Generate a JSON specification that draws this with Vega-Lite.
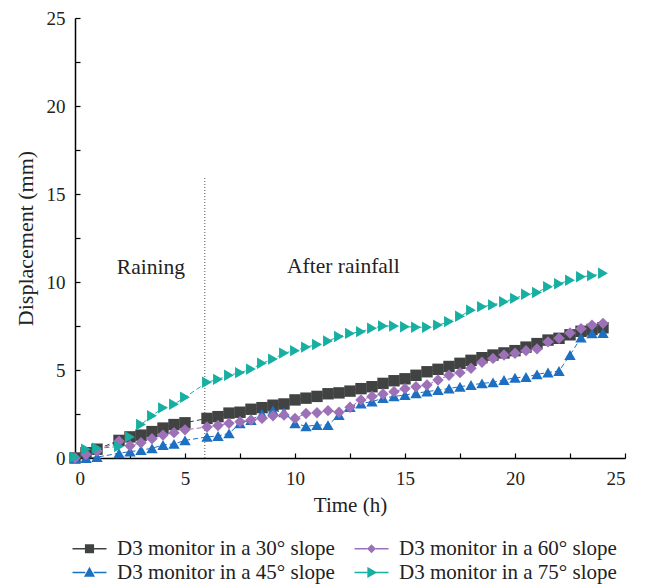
{
  "$schema": "https://vega.github.io/schema/vega-lite/v6.json",
  "width": 550,
  "height": 440,
  "autosize": "none",
  "padding": {"left": 75, "top": 18, "right": 21, "bottom": 127},
  "background": "white",
  "config": {
    "view": {"stroke": null},
    "font": "Liberation Serif",
    "axis": {
      "domainColor": "#000000",
      "domainWidth": 1.5,
      "tickColor": "#000000",
      "tickWidth": 1.2,
      "tickSize": -5,
      "grid": false,
      "labelFont": "Liberation Serif",
      "labelFontSize": 19,
      "labelColor": "#222222",
      "titleFont": "Liberation Serif",
      "titleFontSize": 21,
      "titleFontWeight": "normal",
      "titleColor": "#222222"
    },
    "legend": {
      "orient": "none",
      "legendX": 4,
      "legendY": 520,
      "columns": 2,
      "direction": "horizontal",
      "symbolSize": 289,
      "symbolStrokeWidth": 1.5,
      "labelFont": "Liberation Serif",
      "labelFontSize": 21,
      "labelLimit": 400,
      "labelColor": "#222222",
      "labelOffset": 17,
      "columnPadding": 16,
      "rowPadding": 2
    }
  },
  "datasets": {
    "d": [
      {"s": "D3 monitor in a 30° slope", "t": 0, "v": 0},
      {"s": "D3 monitor in a 30° slope", "t": 0.5, "v": 0.3},
      {"s": "D3 monitor in a 30° slope", "t": 1, "v": 0.5},
      {"s": "D3 monitor in a 30° slope", "t": 2, "v": 1.0},
      {"s": "D3 monitor in a 30° slope", "t": 2.5, "v": 1.2},
      {"s": "D3 monitor in a 30° slope", "t": 3, "v": 1.3},
      {"s": "D3 monitor in a 30° slope", "t": 3.5, "v": 1.5},
      {"s": "D3 monitor in a 30° slope", "t": 4, "v": 1.7},
      {"s": "D3 monitor in a 30° slope", "t": 4.5, "v": 1.9},
      {"s": "D3 monitor in a 30° slope", "t": 5, "v": 2.0},
      {"s": "D3 monitor in a 30° slope", "t": 6, "v": 2.25},
      {"s": "D3 monitor in a 30° slope", "t": 6.5, "v": 2.35},
      {"s": "D3 monitor in a 30° slope", "t": 7, "v": 2.55},
      {"s": "D3 monitor in a 30° slope", "t": 7.5, "v": 2.6},
      {"s": "D3 monitor in a 30° slope", "t": 8, "v": 2.77},
      {"s": "D3 monitor in a 30° slope", "t": 8.5, "v": 2.86},
      {"s": "D3 monitor in a 30° slope", "t": 9, "v": 3.0},
      {"s": "D3 monitor in a 30° slope", "t": 9.5, "v": 3.07},
      {"s": "D3 monitor in a 30° slope", "t": 10, "v": 3.3},
      {"s": "D3 monitor in a 30° slope", "t": 10.5, "v": 3.4},
      {"s": "D3 monitor in a 30° slope", "t": 11, "v": 3.5},
      {"s": "D3 monitor in a 30° slope", "t": 11.5, "v": 3.65},
      {"s": "D3 monitor in a 30° slope", "t": 12, "v": 3.7},
      {"s": "D3 monitor in a 30° slope", "t": 12.5, "v": 3.8},
      {"s": "D3 monitor in a 30° slope", "t": 13, "v": 3.94},
      {"s": "D3 monitor in a 30° slope", "t": 13.5, "v": 4.05},
      {"s": "D3 monitor in a 30° slope", "t": 14, "v": 4.24},
      {"s": "D3 monitor in a 30° slope", "t": 14.5, "v": 4.39},
      {"s": "D3 monitor in a 30° slope", "t": 15, "v": 4.5},
      {"s": "D3 monitor in a 30° slope", "t": 15.5, "v": 4.7},
      {"s": "D3 monitor in a 30° slope", "t": 16, "v": 4.9},
      {"s": "D3 monitor in a 30° slope", "t": 16.5, "v": 5.04},
      {"s": "D3 monitor in a 30° slope", "t": 17, "v": 5.2},
      {"s": "D3 monitor in a 30° slope", "t": 17.5, "v": 5.38},
      {"s": "D3 monitor in a 30° slope", "t": 18, "v": 5.55},
      {"s": "D3 monitor in a 30° slope", "t": 18.5, "v": 5.7},
      {"s": "D3 monitor in a 30° slope", "t": 19, "v": 5.85},
      {"s": "D3 monitor in a 30° slope", "t": 19.5, "v": 5.97},
      {"s": "D3 monitor in a 30° slope", "t": 20, "v": 6.1},
      {"s": "D3 monitor in a 30° slope", "t": 20.5, "v": 6.3},
      {"s": "D3 monitor in a 30° slope", "t": 21, "v": 6.5},
      {"s": "D3 monitor in a 30° slope", "t": 21.5, "v": 6.7},
      {"s": "D3 monitor in a 30° slope", "t": 22, "v": 6.8},
      {"s": "D3 monitor in a 30° slope", "t": 22.5, "v": 7.0},
      {"s": "D3 monitor in a 30° slope", "t": 23, "v": 7.2},
      {"s": "D3 monitor in a 30° slope", "t": 23.5, "v": 7.3},
      {"s": "D3 monitor in a 30° slope", "t": 24, "v": 7.4},

      {"s": "D3 monitor in a 45° slope", "t": 0, "v": 0},
      {"s": "D3 monitor in a 45° slope", "t": 0.5, "v": 0},
      {"s": "D3 monitor in a 45° slope", "t": 1, "v": 0.05},
      {"s": "D3 monitor in a 45° slope", "t": 2, "v": 0.27},
      {"s": "D3 monitor in a 45° slope", "t": 2.5, "v": 0.36},
      {"s": "D3 monitor in a 45° slope", "t": 3, "v": 0.45},
      {"s": "D3 monitor in a 45° slope", "t": 3.5, "v": 0.55},
      {"s": "D3 monitor in a 45° slope", "t": 4, "v": 0.74},
      {"s": "D3 monitor in a 45° slope", "t": 4.5, "v": 0.8},
      {"s": "D3 monitor in a 45° slope", "t": 5, "v": 1.0},
      {"s": "D3 monitor in a 45° slope", "t": 6, "v": 1.2},
      {"s": "D3 monitor in a 45° slope", "t": 6.5, "v": 1.25},
      {"s": "D3 monitor in a 45° slope", "t": 7, "v": 1.4},
      {"s": "D3 monitor in a 45° slope", "t": 7.5, "v": 1.97},
      {"s": "D3 monitor in a 45° slope", "t": 8, "v": 2.16},
      {"s": "D3 monitor in a 45° slope", "t": 8.5, "v": 2.5},
      {"s": "D3 monitor in a 45° slope", "t": 9, "v": 2.7},
      {"s": "D3 monitor in a 45° slope", "t": 9.5, "v": 2.6},
      {"s": "D3 monitor in a 45° slope", "t": 10, "v": 1.97},
      {"s": "D3 monitor in a 45° slope", "t": 10.5, "v": 1.8},
      {"s": "D3 monitor in a 45° slope", "t": 11, "v": 1.87},
      {"s": "D3 monitor in a 45° slope", "t": 11.5, "v": 1.87},
      {"s": "D3 monitor in a 45° slope", "t": 12, "v": 2.44},
      {"s": "D3 monitor in a 45° slope", "t": 12.5, "v": 2.9},
      {"s": "D3 monitor in a 45° slope", "t": 13, "v": 3.1},
      {"s": "D3 monitor in a 45° slope", "t": 13.5, "v": 3.2},
      {"s": "D3 monitor in a 45° slope", "t": 14, "v": 3.4},
      {"s": "D3 monitor in a 45° slope", "t": 14.5, "v": 3.5},
      {"s": "D3 monitor in a 45° slope", "t": 15, "v": 3.58},
      {"s": "D3 monitor in a 45° slope", "t": 15.5, "v": 3.68},
      {"s": "D3 monitor in a 45° slope", "t": 16, "v": 3.77},
      {"s": "D3 monitor in a 45° slope", "t": 16.5, "v": 3.86},
      {"s": "D3 monitor in a 45° slope", "t": 17, "v": 3.95},
      {"s": "D3 monitor in a 45° slope", "t": 17.5, "v": 4.05},
      {"s": "D3 monitor in a 45° slope", "t": 18, "v": 4.15},
      {"s": "D3 monitor in a 45° slope", "t": 18.5, "v": 4.24},
      {"s": "D3 monitor in a 45° slope", "t": 19, "v": 4.3},
      {"s": "D3 monitor in a 45° slope", "t": 19.5, "v": 4.43},
      {"s": "D3 monitor in a 45° slope", "t": 20, "v": 4.56},
      {"s": "D3 monitor in a 45° slope", "t": 20.5, "v": 4.6},
      {"s": "D3 monitor in a 45° slope", "t": 21, "v": 4.75},
      {"s": "D3 monitor in a 45° slope", "t": 21.5, "v": 4.86},
      {"s": "D3 monitor in a 45° slope", "t": 22, "v": 4.94},
      {"s": "D3 monitor in a 45° slope", "t": 22.5, "v": 5.85},
      {"s": "D3 monitor in a 45° slope", "t": 23, "v": 6.84},
      {"s": "D3 monitor in a 45° slope", "t": 23.5, "v": 7.08},
      {"s": "D3 monitor in a 45° slope", "t": 24, "v": 7.1},

      {"s": "D3 monitor in a 60° slope", "t": 0, "v": 0},
      {"s": "D3 monitor in a 60° slope", "t": 0.5, "v": 0.2},
      {"s": "D3 monitor in a 60° slope", "t": 1, "v": 0.4},
      {"s": "D3 monitor in a 60° slope", "t": 2, "v": 0.95},
      {"s": "D3 monitor in a 60° slope", "t": 2.5, "v": 0.7},
      {"s": "D3 monitor in a 60° slope", "t": 3, "v": 0.87},
      {"s": "D3 monitor in a 60° slope", "t": 3.5, "v": 1.1},
      {"s": "D3 monitor in a 60° slope", "t": 4, "v": 1.3},
      {"s": "D3 monitor in a 60° slope", "t": 4.5, "v": 1.44},
      {"s": "D3 monitor in a 60° slope", "t": 5, "v": 1.6},
      {"s": "D3 monitor in a 60° slope", "t": 6, "v": 1.76},
      {"s": "D3 monitor in a 60° slope", "t": 6.5, "v": 1.85},
      {"s": "D3 monitor in a 60° slope", "t": 7, "v": 1.97},
      {"s": "D3 monitor in a 60° slope", "t": 7.5, "v": 2.06},
      {"s": "D3 monitor in a 60° slope", "t": 8, "v": 2.16},
      {"s": "D3 monitor in a 60° slope", "t": 8.5, "v": 2.25},
      {"s": "D3 monitor in a 60° slope", "t": 9, "v": 2.4},
      {"s": "D3 monitor in a 60° slope", "t": 9.5, "v": 2.44},
      {"s": "D3 monitor in a 60° slope", "t": 10, "v": 2.25},
      {"s": "D3 monitor in a 60° slope", "t": 10.5, "v": 2.53},
      {"s": "D3 monitor in a 60° slope", "t": 11, "v": 2.57},
      {"s": "D3 monitor in a 60° slope", "t": 11.5, "v": 2.69},
      {"s": "D3 monitor in a 60° slope", "t": 12, "v": 2.6},
      {"s": "D3 monitor in a 60° slope", "t": 12.5, "v": 2.88},
      {"s": "D3 monitor in a 60° slope", "t": 13, "v": 3.3},
      {"s": "D3 monitor in a 60° slope", "t": 13.5, "v": 3.5},
      {"s": "D3 monitor in a 60° slope", "t": 14, "v": 3.64},
      {"s": "D3 monitor in a 60° slope", "t": 14.5, "v": 3.77},
      {"s": "D3 monitor in a 60° slope", "t": 15, "v": 3.94},
      {"s": "D3 monitor in a 60° slope", "t": 15.5, "v": 4.05},
      {"s": "D3 monitor in a 60° slope", "t": 16, "v": 4.15},
      {"s": "D3 monitor in a 60° slope", "t": 16.5, "v": 4.43},
      {"s": "D3 monitor in a 60° slope", "t": 17, "v": 4.7},
      {"s": "D3 monitor in a 60° slope", "t": 17.5, "v": 4.85},
      {"s": "D3 monitor in a 60° slope", "t": 18, "v": 5.1},
      {"s": "D3 monitor in a 60° slope", "t": 18.5, "v": 5.44},
      {"s": "D3 monitor in a 60° slope", "t": 19, "v": 5.66},
      {"s": "D3 monitor in a 60° slope", "t": 19.5, "v": 5.85},
      {"s": "D3 monitor in a 60° slope", "t": 20, "v": 5.95},
      {"s": "D3 monitor in a 60° slope", "t": 20.5, "v": 6.1},
      {"s": "D3 monitor in a 60° slope", "t": 21, "v": 6.2},
      {"s": "D3 monitor in a 60° slope", "t": 21.5, "v": 6.6},
      {"s": "D3 monitor in a 60° slope", "t": 22, "v": 6.8},
      {"s": "D3 monitor in a 60° slope", "t": 22.5, "v": 7.1},
      {"s": "D3 monitor in a 60° slope", "t": 23, "v": 7.35},
      {"s": "D3 monitor in a 60° slope", "t": 23.5, "v": 7.55},
      {"s": "D3 monitor in a 60° slope", "t": 24, "v": 7.65},

      {"s": "D3 monitor in a 75° slope", "t": 0, "v": 0.05},
      {"s": "D3 monitor in a 75° slope", "t": 0.5, "v": 0.5},
      {"s": "D3 monitor in a 75° slope", "t": 1, "v": 0.55},
      {"s": "D3 monitor in a 75° slope", "t": 2, "v": 0.65},
      {"s": "D3 monitor in a 75° slope", "t": 2.5, "v": 1.2},
      {"s": "D3 monitor in a 75° slope", "t": 3, "v": 1.9},
      {"s": "D3 monitor in a 75° slope", "t": 3.5, "v": 2.4},
      {"s": "D3 monitor in a 75° slope", "t": 4, "v": 2.85},
      {"s": "D3 monitor in a 75° slope", "t": 4.5, "v": 3.05},
      {"s": "D3 monitor in a 75° slope", "t": 5, "v": 3.45},
      {"s": "D3 monitor in a 75° slope", "t": 6, "v": 4.3},
      {"s": "D3 monitor in a 75° slope", "t": 6.5, "v": 4.47},
      {"s": "D3 monitor in a 75° slope", "t": 7, "v": 4.7},
      {"s": "D3 monitor in a 75° slope", "t": 7.5, "v": 4.85},
      {"s": "D3 monitor in a 75° slope", "t": 8, "v": 5.05},
      {"s": "D3 monitor in a 75° slope", "t": 8.5, "v": 5.38},
      {"s": "D3 monitor in a 75° slope", "t": 9, "v": 5.62},
      {"s": "D3 monitor in a 75° slope", "t": 9.5, "v": 5.96},
      {"s": "D3 monitor in a 75° slope", "t": 10, "v": 6.1},
      {"s": "D3 monitor in a 75° slope", "t": 10.5, "v": 6.3},
      {"s": "D3 monitor in a 75° slope", "t": 11, "v": 6.45},
      {"s": "D3 monitor in a 75° slope", "t": 11.5, "v": 6.65},
      {"s": "D3 monitor in a 75° slope", "t": 12, "v": 6.9},
      {"s": "D3 monitor in a 75° slope", "t": 12.5, "v": 7.08},
      {"s": "D3 monitor in a 75° slope", "t": 13, "v": 7.18},
      {"s": "D3 monitor in a 75° slope", "t": 13.5, "v": 7.37},
      {"s": "D3 monitor in a 75° slope", "t": 14, "v": 7.5},
      {"s": "D3 monitor in a 75° slope", "t": 14.5, "v": 7.5},
      {"s": "D3 monitor in a 75° slope", "t": 15, "v": 7.46},
      {"s": "D3 monitor in a 75° slope", "t": 15.5, "v": 7.43},
      {"s": "D3 monitor in a 75° slope", "t": 16, "v": 7.43},
      {"s": "D3 monitor in a 75° slope", "t": 16.5, "v": 7.55},
      {"s": "D3 monitor in a 75° slope", "t": 17, "v": 7.75},
      {"s": "D3 monitor in a 75° slope", "t": 17.5, "v": 8.05},
      {"s": "D3 monitor in a 75° slope", "t": 18, "v": 8.4},
      {"s": "D3 monitor in a 75° slope", "t": 18.5, "v": 8.6},
      {"s": "D3 monitor in a 75° slope", "t": 19, "v": 8.7},
      {"s": "D3 monitor in a 75° slope", "t": 19.5, "v": 8.88},
      {"s": "D3 monitor in a 75° slope", "t": 20, "v": 9.07},
      {"s": "D3 monitor in a 75° slope", "t": 20.5, "v": 9.3},
      {"s": "D3 monitor in a 75° slope", "t": 21, "v": 9.4},
      {"s": "D3 monitor in a 75° slope", "t": 21.5, "v": 9.73},
      {"s": "D3 monitor in a 75° slope", "t": 22, "v": 9.9},
      {"s": "D3 monitor in a 75° slope", "t": 22.5, "v": 10.1},
      {"s": "D3 monitor in a 75° slope", "t": 23, "v": 10.3},
      {"s": "D3 monitor in a 75° slope", "t": 23.5, "v": 10.36},
      {"s": "D3 monitor in a 75° slope", "t": 24, "v": 10.5}
    ]
  },
  "encoding": {
    "x": {
      "field": "t",
      "type": "quantitative",
      "scale": {"domain": [0, 25], "nice": false, "zero": false},
      "axis": {
        "title": "Time (h)",
        "values": [0, 2.5, 5, 7.5, 10, 12.5, 15, 17.5, 20, 22.5, 25],
        "labelExpr": "datum.value % 5 === 0 ? datum.label : ''",
        "labelPadding": 16,
        "titlePadding": 6
      }
    },
    "y": {
      "field": "v",
      "type": "quantitative",
      "scale": {"domain": [0, 25], "nice": false, "zero": false},
      "axis": {
        "title": "Displacement (mm)",
        "titleFontSize": 22,
        "values": [0, 2.5, 5, 7.5, 10, 12.5, 15, 17.5, 20, 22.5, 25],
        "labelExpr": "datum.value % 5 === 0 ? datum.label : ''",
        "labelPadding": 15,
        "titlePadding": 9
      }
    }
  },
  "layer": [
    {
      "data": {"values": [{"t": 5.9, "v": 0, "v2": 16}]},
      "mark": {"type": "rule", "strokeDash": [1, 2], "color": "#555555", "strokeWidth": 1},
      "encoding": {"y2": {"field": "v2"}}
    },
    {
      "data": {"values": [
        {"t": 3.45, "v": 10.8, "label": "Raining"},
        {"t": 12.2, "v": 10.85, "label": "After rainfall"}
      ]},
      "mark": {"type": "text", "font": "Liberation Serif", "fontSize": 21.5, "color": "#222222"},
      "encoding": {"text": {"field": "label"}}
    },
    {
      "data": {"name": "d"},
      "mark": {"type": "line", "strokeDash": [5, 3], "strokeWidth": 1},
      "encoding": {
        "color": {
          "field": "s",
          "type": "nominal",
          "legend": {
            "title": null,
            "symbolType": {"expr": "['M-2,0H-0.5M0.5,0H2M-0.45,-0.45H0.45V0.45H-0.45Z','M-2,0H-0.5M0.5,0H2M0,-0.4L0.4,0L0,0.4L-0.4,0Z','M-2,0H-0.5M0.5,0H2M0,-0.5L0.5,0.4H-0.5Z','M-2,0H-0.5M0.5,0H2M-0.4,-0.5L0.5,0L-0.4,0.5Z'][datum.index]"}
          }
        },
        "detail": {"field": "s"}
      }
    },
    {
      "data": {"name": "d"},
      "mark": {"type": "point", "filled": true, "opacity": 1, "size": 130},
      "encoding": {
        "color": {
          "field": "s",
          "type": "nominal",
          "scale": {
            "domain": ["D3 monitor in a 30° slope", "D3 monitor in a 60° slope", "D3 monitor in a 45° slope", "D3 monitor in a 75° slope"],
            "range": ["#414343", "#9D71B7", "#1D6FC1", "#17AFA2"]
          },
          "legend": {
            "title": null,
            "symbolType": {"expr": "['M-2,0H-0.5M0.5,0H2M-0.45,-0.45H0.45V0.45H-0.45Z','M-2,0H-0.5M0.5,0H2M0,-0.4L0.4,0L0,0.4L-0.4,0Z','M-2,0H-0.5M0.5,0H2M0,-0.5L0.5,0.4H-0.5Z','M-2,0H-0.5M0.5,0H2M-0.4,-0.5L0.5,0L-0.4,0.5Z'][datum.index]"}
          }
        },
        "shape": {
          "field": "s",
          "type": "nominal",
          "scale": {
            "domain": ["D3 monitor in a 30° slope", "D3 monitor in a 45° slope", "D3 monitor in a 60° slope", "D3 monitor in a 75° slope"],
            "range": ["square", "triangle-up", "diamond", "triangle-right"]
          },
          "legend": null
        }
      }
    }
  ]
}
